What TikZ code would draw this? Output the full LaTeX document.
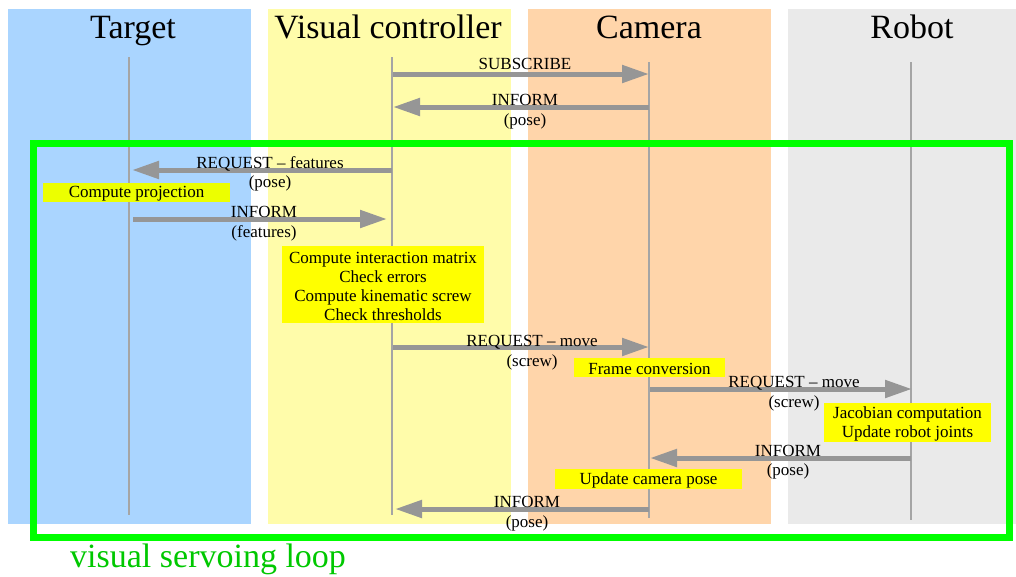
\documentclass[tikz,border=0pt]{standalone}
\usepackage{fontspec}
\setmainfont{Liberation Serif}
\usetikzlibrary{arrows.meta}
\definecolor{bgTarget}{RGB}{170,213,255}
\definecolor{bgVC}{RGB}{255,252,170}
\definecolor{bgCam}{RGB}{255,213,170}
\definecolor{bgRobot}{RGB}{234,234,234}
\definecolor{lifegray}{RGB}{165,165,165}
\definecolor{arrgray}{RGB}{150,150,150}
\definecolor{loopgreen}{RGB}{0,255,0}
\definecolor{loopgtext}{RGB}{0,200,0}
\definecolor{boxyellow}{RGB}{255,255,0}
\definecolor{boxlime}{RGB}{236,255,0}
\tikzset{
  lane/.style={fill=#1, draw=none},
  lifeline/.style={draw=lifegray, line width=1.4pt},
  msg/.style={draw=arrgray, line width=5pt, -{Triangle[length=27pt,width=17pt]}},
  title/.style={font=\fontsize{34}{38}\selectfont, inner sep=0pt, anchor=base},
  lbl/.style={font=\fontsize{17}{19.5}\selectfont, inner sep=0pt, align=center},
  actbox/.style={fill=#1, inner sep=0pt},
  acttext/.style={inner sep=0pt, align=center, font=\fontsize{17}{19}\selectfont, yshift=-1.5pt},
}
\begin{document}
\begin{tikzpicture}[x=1pt,y=-1pt]
\useasboundingbox (0,0) rectangle (1016,576);
% lanes
\fill[lane=bgTarget] (8,9) rectangle (251,524);
\fill[lane=bgVC] (268,9) rectangle (511,524);
\fill[lane=bgCam] (528,9) rectangle (771,524);
\fill[lane=bgRobot] (788,9) rectangle (1016,524);
% titles
\node[title] (tTarget) at (133,38) {Target};
\node[title] (tVC) at (388,38) {Visual controller};
\node[title] (tCam) at (649,38) {Camera};
\node[title] (tRobot) at (912,38) {Robot};
% lifelines
\coordinate (Ltop) at (129,57); \coordinate (Lbot) at (129,515);
\coordinate (Vtop) at (392,57); \coordinate (Vbot) at (392,515);
\coordinate (Ctop) at (649,62); \coordinate (Cbot) at (649,518);
\coordinate (Rtop) at (911,62); \coordinate (Rbot) at (911,520);
\draw[lifeline] (Ltop) -- (Lbot);
\draw[lifeline] (Vtop) -- (Vbot);
\draw[lifeline] (Ctop) -- (Cbot);
\draw[lifeline] (Rtop) -- (Rbot);
% message end points
\coordinate (m1a) at (393,74);  \coordinate (m1b) at (649,74);
\coordinate (m2a) at (649,107); \coordinate (m2b) at (393,107);
\coordinate (m3a) at (392,170); \coordinate (m3b) at (132,170);
\coordinate (m4a) at (133,219); \coordinate (m4b) at (387,219);
\coordinate (m5a) at (393,347); \coordinate (m5b) at (649,347);
\coordinate (m6a) at (650,389); \coordinate (m6b) at (912,389);
\coordinate (m7a) at (911,458); \coordinate (m7b) at (650,458);
\coordinate (m8a) at (649,509); \coordinate (m8b) at (395,509);
% messages
\draw[msg] (m1a) -- (m1b);
\node[lbl] (l1) at (525,64) {SUBSCRIBE};
\draw[msg] (m2a) -- (m2b);
\node[lbl] (l2) at (525,111.5) {INFORM\\(pose)};
\draw[msg] (m3a) -- (m3b);
\node[lbl] (l3) at (270,174) {REQUEST -- features\\(pose)};
\draw[msg] (m4a) -- (m4b);
\node[lbl] (l4) at (264,223.5) {INFORM\\(features)};
\draw[msg] (m5a) -- (m5b);
\node[lbl] (l5) at (532,352.5) {REQUEST -- move\\(screw)};
\draw[msg] (m6a) -- (m6b);
\node[lbl] (l6) at (794,393.5) {REQUEST -- move\\(screw)};
\draw[msg] (m7a) -- (m7b);
\node[lbl] (l7) at (788,462) {INFORM\\(pose)};
\draw[msg] (m8a) -- (m8b);
\node[lbl] (l8) at (527,513.5) {INFORM\\(pose)};
% activity boxes
\node[actbox=boxlime, minimum width=187pt, minimum height=19pt] (b1) at (136.5,192.5) {};
\node[acttext] (b1t) at (b1.center) {Compute projection};
\node[actbox=boxyellow, minimum width=202pt, minimum height=77pt] (b2) at (383,284.5) {};
\node[acttext] (b2t) at (b2.center) {Compute interaction matrix\\Check errors\\Compute kinematic screw\\Check thresholds};
\node[actbox=boxyellow, minimum width=151pt, minimum height=19pt] (b3) at (649.5,367) {};
\node[acttext] (b3t) at (b3.center) {Frame conversion};
\node[actbox=boxyellow, minimum width=167pt, minimum height=39pt] (b4) at (907.5,422.5) {};
\node[acttext] (b4t) at (b4.center) {Jacobian computation\\Update robot joints};
\node[actbox=boxyellow, minimum width=187pt, minimum height=20pt] (b5) at (648.5,479) {};
\node[acttext] (b5t) at (b5.center) {Update camera pose};
% loop frame
\draw[draw=loopgreen, line width=7pt] (33,143.5) rectangle (1009,537);
\node[title, text=loopgtext, anchor=base west] (loop) at (70,567) {visual servoing loop};
\end{tikzpicture}
\end{document}
